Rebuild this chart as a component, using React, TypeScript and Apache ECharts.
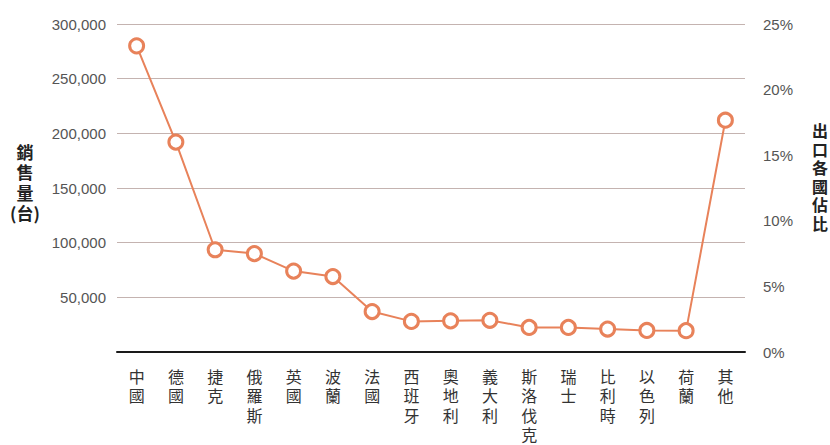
import React, { useEffect, useRef } from "react";
import * as echarts from "echarts";

const categories = ["中國", "德國", "捷克", "俄羅斯", "英國", "波蘭", "法國", "西班牙", "奧地利", "義大利", "斯洛伐克", "瑞士", "比利時", "以色列", "荷蘭", "其他"];
const sales = [280000, 192000, 93500, 90000, 74000, 69000, 37000, 28000, 28500, 29000, 22500, 22500, 21000, 19700, 19500, 212000];
const leftTicks = { min: 0, max: 300000, interval: 50000 };
const rightTicks = { min: 0, max: 0.25, interval: 0.05 };
const leftName = "銷\n售\n量\n(台)";
const rightName = "出\n口\n各\n國\n佔\n比";

const CJK = '"Noto Sans CJK TC", "Noto Sans CJK SC", sans-serif';
const NUM = '"Liberation Sans", "Noto Sans", sans-serif';

export default function App() {
  const ref = useRef<HTMLDivElement>(null);
  useEffect(() => {
    document.body.style.margin = "0";
    const chart = echarts.init(ref.current!, null, { renderer: "svg" });
    chart.setOption({
      animation: false,
      backgroundColor: "#ffffff",
      grid: { left: 117, right: 85, top: 24, bottom: 93 },
      xAxis: {
        type: "category",
        data: categories,
        boundaryGap: true,
        axisLine: { show: true, lineStyle: { color: "#1a1a1a", width: 2 } },
        axisTick: { show: false },
        axisLabel: {
          interval: 0,
          margin: 14,
          color: "#333333",
          fontSize: 16,
          lineHeight: 19.5,
          fontFamily: CJK,
          formatter: (v: string) => v.split("").join("\n"),
        },
      },
      yAxis: [
        {
          type: "value",
          ...leftTicks,
          position: "left",
          axisLine: { show: false },
          axisTick: { show: false },
          splitLine: { show: true, lineStyle: { color: "#c4b3b0", width: 1 } },
          axisLabel: {
            margin: 11,
            color: "#555555",
            fontSize: 15,
            fontFamily: NUM,
            formatter: (v: number) => (v === 0 ? "" : v.toLocaleString("en-US")),
          },
        },
        {
          type: "value",
          ...rightTicks,
          position: "right",
          axisLine: { show: false },
          axisTick: { show: false },
          splitLine: { show: false },
          axisLabel: {
            margin: 18,
            color: "#555555",
            fontSize: 15,
            fontFamily: NUM,
            formatter: (v: number) => Math.round(v * 100) + "%",
          },
        },
      ],
      series: [
        {
          type: "line",
          yAxisIndex: 0,
          data: sales,
          symbol: "circle",
          symbolSize: 14,
          lineStyle: { color: "#e8825a", width: 2 },
          itemStyle: { color: "#ffffff", borderColor: "#e8825a", borderWidth: 3 },
        },
      ],
      graphic: [
        {
          type: "text",
          x: 25,
          y: 141,
          style: {
            text: leftName,
            fill: "#222222",
            font: `bold 17px ${CJK}`,
            lineHeight: 20.5,
            align: "center",
            verticalAlign: "top",
          },
        },
        {
          type: "text",
          x: 820,
          y: 121,
          style: {
            text: rightName,
            fill: "#222222",
            font: `bold 16px ${CJK}`,
            lineHeight: 18.5,
            align: "center",
            verticalAlign: "top",
          },
        },
      ],
    });
    return () => chart.dispose();
  }, []);
  return <div ref={ref} style={{ width: 830, height: 445 }} />;
}
